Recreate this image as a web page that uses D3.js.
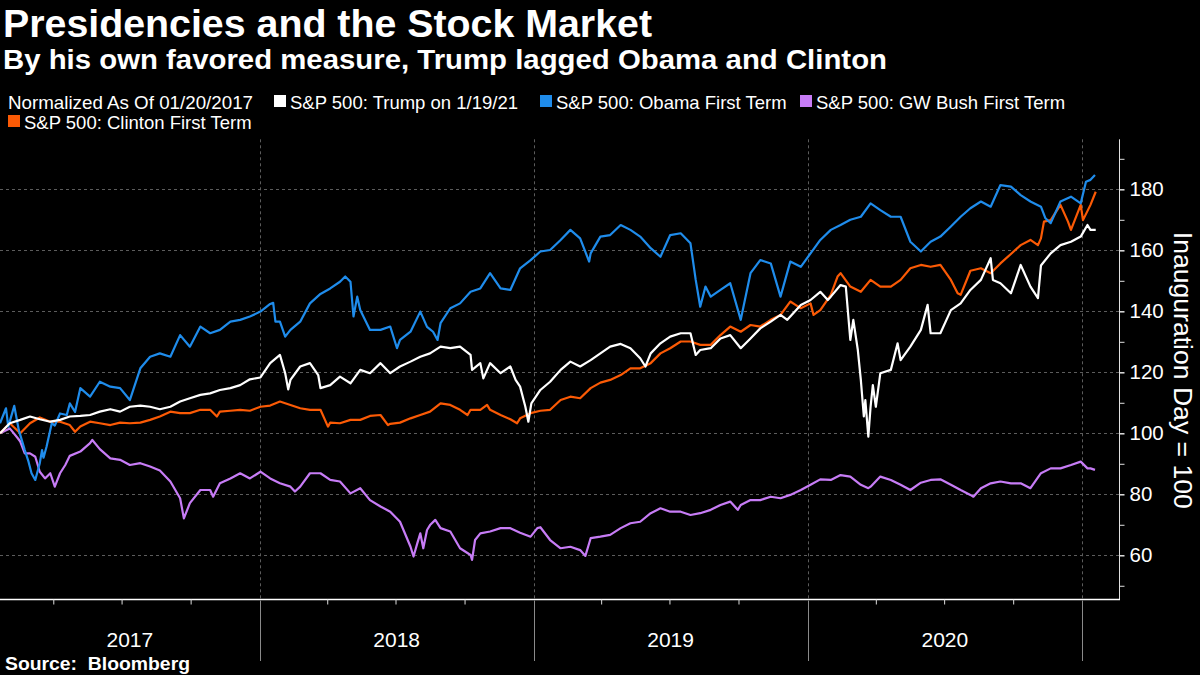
<!DOCTYPE html>
<html><head><meta charset="utf-8">
<script src="https://cdn.jsdelivr.net/npm/d3@7"></script>
<style>
html,body{margin:0;padding:0;background:#000;}
svg{display:block;font-family:"Liberation Sans",Arial,sans-serif;}
</style></head><body>
<svg id="chart" width="1200" height="675"></svg>
<script>
// ---------- DATA ----------
// day offsets from inauguration day (2017-01-20), index value (Inauguration Day = 100)
const startDate = new Date(2017, 0, 20);
const endDate = new Date(2021, 1, 19);

const trumpSeries = [[0,100],[13,103.3],[27,104.4],[40,105.5],[53,104.6],[67,103.8],[80,104.4],[93,105.5],[107,105.7],[120,106.0],[133,107.1],[147,107.9],[160,107.1],[173,108.7],[187,109.1],[200,108.7],[213,107.9],[227,108.7],[240,110.4],[253,111.5],[267,112.6],[280,113.1],[293,114.2],[307,114.8],[320,115.8],[333,117.7],[347,118.3],[360,123.0],[373,125.7],[380,119.7],[384,114.4],[387,117.5],[400,121.9],[413,123.0],[424,119.1],[427,114.8],[440,115.8],[453,118.6],[467,116.4],[480,120.8],[493,119.7],[507,123.0],[520,119.7],[533,121.9],[547,123.5],[560,125.1],[573,126.2],[587,128.4],[600,127.9],[613,128.4],[627,125.7],[629,120.8],[640,123.0],[644,118.0],[653,123.0],[667,119.7],[680,121.9],[687,117.5],[693,115.3],[700,108.7],[704,103.8],[708,109.8],[720,114.2],[733,116.9],[747,120.8],[760,123.5],[773,121.9],[787,124.0],[800,126.2],[813,128.4],[827,129.3],[840,127.9],[853,124.6],[860,121.9],[867,126.2],[880,129.5],[893,131.7],[907,132.8],[920,132.8],[927,125.7],[933,127.3],[947,127.9],[960,131.1],[973,132.2],[987,127.9],[1000,131.1],[1013,134.4],[1027,136.6],[1040,138.8],[1049,137.2],[1053,138.3],[1067,142.1],[1080,143.7],[1093,146.4],[1103,143.7],[1107,144.8],[1120,148.6],[1127,148.1],[1133,130.6],[1137,137.2],[1143,127.3],[1147,117.5],[1151,105.5],[1153,110.9],[1157,98.9],[1160,108.7],[1163,115.8],[1167,108.7],[1173,119.7],[1187,120.8],[1196,129.5],[1200,124.0],[1213,128.4],[1227,133.9],[1236,142.1],[1240,132.8],[1253,132.8],[1267,140.4],[1280,142.6],[1293,147.0],[1307,150.3],[1320,157.4],[1323,150.3],[1333,149.2],[1347,145.9],[1360,155.2],[1373,148.1],[1383,144.3],[1387,155.0],[1400,159.0],[1413,161.7],[1427,162.8],[1440,164.5],[1449,168.3],[1453,166.7],[1460,166.7]];

const obamaSeries = [[0,103.3],[8,108.2],[11,102.2],[19,109.0],[25,101.1],[33,94.5],[38,90.7],[42,86.9],[47,84.7],[53,90.2],[56,94.5],[58,92],[62,95.6],[69,103.3],[73,102.5],[80,106.5],[89,106],[93,109.8],[100,107],[107,114.8],[120,112.0],[133,116.9],[147,115.3],[160,114.8],[173,110.9],[187,121.3],[200,125.1],[213,126.2],[227,125.1],[240,132.2],[253,128.4],[267,135.0],[280,132.8],[293,133.9],[307,136.6],[320,137.2],[333,138.3],[347,139.9],[360,142.4],[364,142.8],[367,136.6],[373,136.6],[380,131.7],[387,133.9],[400,136.6],[413,142.6],[427,145.7],[440,147.5],[453,149.7],[460,151.4],[467,149.7],[471,138.3],[476,144.8],[480,140.4],[493,133.9],[507,133.9],[520,135.0],[529,127.9],[533,130.6],[547,133.3],[560,139.9],[569,134.9],[577,133.3],[583,130.6],[587,136.1],[600,141.0],[613,142.6],[627,146.4],[640,147.5],[653,152.5],[667,147.5],[680,147.0],[693,154.1],[707,156.8],[720,159.6],[733,160.1],[747,163.4],[760,166.7],[773,163.9],[785,156.3],[787,159.0],[800,164.5],[813,165.0],[827,168.3],[840,166.7],[853,164.5],[867,160.7],[880,157.9],[893,165.0],[907,165.6],[920,162.3],[927,150.3],[933,141.5],[940,148.1],[947,144.8],[960,147.0],[973,149.2],[987,137.2],[1000,152.5],[1013,156.8],[1027,155.7],[1040,144.8],[1053,156.3],[1067,154.6],[1080,159.0],[1093,163.4],[1107,166.7],[1120,168.3],[1133,170.0],[1147,171.0],[1160,175.4],[1173,173.2],[1187,171.0],[1200,171.0],[1213,162.8],[1227,159.6],[1240,162.8],[1253,164.5],[1267,167.8],[1280,171.0],[1293,173.8],[1307,176.0],[1320,174.3],[1333,181.4],[1347,180.9],[1360,178.1],[1373,176.0],[1387,174.3],[1393,170.5],[1400,168.9],[1413,176.0],[1427,177.6],[1440,175.4],[1447,182.5],[1453,183.1],[1459,184.7]];

const bushSeries = [[0,100],[13,101.6],[24,98.3],[27,97.3],[33,93.4],[40,93.4],[47,92.3],[53,87.4],[60,85.2],[67,86.9],[73,82.5],[80,86.9],[87,89.6],[93,92.6],[107,94.0],[120,96.8],[123,97.8],[133,94.8],[147,91.8],[160,91.3],[173,89.6],[187,90.2],[200,89.1],[213,87.8],[227,84.2],[240,78.7],[245,72.1],[253,77.1],[267,81.4],[280,81.4],[284,79.2],[293,83.6],[307,85.2],[320,86.9],[333,85.2],[347,87.4],[360,85.2],[373,83.6],[387,82.5],[393,80.9],[400,82.5],[413,86.9],[427,86.9],[440,84.7],[453,84.2],[467,80.3],[480,82.0],[493,78.1],[507,76.0],[520,74.3],[533,71.0],[547,62.8],[551,59.6],[556,63.9],[560,67.2],[564,62.3],[569,68.3],[573,69.9],[580,71.6],[587,68.9],[600,67.8],[613,62.3],[627,60.1],[629,58.5],[633,65.0],[640,67.2],[653,67.8],[667,68.9],[680,68.9],[693,67.4],[707,66.1],[716,68.9],[720,69.2],[733,65.0],[747,62.3],[760,62.8],[773,61.7],[780,59.8],[787,65.6],[800,66.1],[813,66.7],[827,68.9],[840,70.5],[853,71.0],[867,73.8],[880,75.4],[893,74.3],[907,74.3],[920,73.2],[933,73.8],[947,74.9],[960,76.5],[973,77.6],[983,74.9],[987,76.5],[1000,78.1],[1013,78.1],[1027,79.2],[1040,78.7],[1053,79.8],[1067,81.4],[1080,83.1],[1093,84.9],[1107,84.7],[1120,86.3],[1133,85.8],[1147,83.1],[1157,82.0],[1160,82.5],[1173,85.8],[1187,84.7],[1200,83.1],[1213,81.4],[1227,83.8],[1240,84.7],[1253,84.9],[1267,83.1],[1280,81.4],[1293,79.8],[1297,79.2],[1307,82.0],[1320,83.6],[1333,84.2],[1347,83.6],[1360,83.6],[1373,82.0],[1387,86.9],[1400,88.5],[1413,88.5],[1427,89.6],[1440,90.7],[1449,88.5],[1453,88.5],[1459,88.0]];

const clintonSeries = [[0,100],[13,103.3],[27,100.0],[40,103.3],[53,105.2],[67,103.8],[80,103.8],[93,102.7],[100,100.5],[107,102.2],[120,103.8],[133,103.3],[147,102.7],[160,103.5],[173,103.3],[187,103.5],[200,104.4],[213,105.5],[227,107.1],[240,106.6],[253,106.6],[267,107.7],[280,107.7],[289,105.5],[293,107.1],[307,107.4],[320,107.7],[333,107.4],[347,108.7],[360,109.1],[373,110.4],[387,109.3],[400,108.2],[413,107.7],[427,107.7],[437,102.2],[440,103.5],[453,103.3],[467,104.4],[480,104.4],[493,105.7],[507,106.0],[517,102.7],[520,103.1],[533,103.5],[547,104.9],[560,106.0],[573,107.1],[587,109.8],[600,109.3],[613,107.7],[623,106.0],[627,107.7],[640,107.7],[649,109.3],[653,107.7],[667,106.0],[680,104.6],[689,103.3],[693,104.9],[707,106.6],[720,107.4],[733,107.7],[747,110.9],[760,112.0],[773,111.5],[787,114.8],[800,116.6],[813,117.5],[827,119.1],[840,121.3],[853,121.3],[867,123.0],[880,126.2],[893,127.9],[907,130.1],[920,130.1],[933,129.0],[947,129.0],[960,132.2],[973,135.0],[987,133.3],[1000,135.5],[1013,135.0],[1027,137.2],[1040,138.8],[1053,143.2],[1060,142.1],[1067,141.0],[1080,142.6],[1084,138.8],[1093,140.4],[1107,145.4],[1116,151.4],[1120,152.5],[1133,148.1],[1147,146.4],[1160,150.3],[1173,148.1],[1187,148.1],[1200,150.3],[1213,154.1],[1227,155.2],[1240,154.6],[1253,155.2],[1267,150.3],[1276,145.9],[1280,145.4],[1293,153.3],[1307,154.1],[1320,152.5],[1333,155.7],[1347,158.8],[1360,161.7],[1373,163.4],[1383,161.7],[1387,163.9],[1391,169.4],[1400,169.9],[1413,174.9],[1423,169.4],[1427,166.7],[1440,174.9],[1443,169.9],[1453,174.9],[1460,179.2]];

const seriesNames = ["S&P 500: Trump on 1/19/21","S&P 500: Obama First Term","S&P 500: GW Bush First Term","S&P 500: Clinton First Term"];
const legendNote = "Normalized As Of 01/20/2017";
const yTicks = [60,80,100,120,140,160,180];
const yMinorTicks = [50,70,90,110,130,150,170,190];
const yearLabels = [2017,2018,2019,2020];
const titleText = "Presidencies and the Stock Market";
const subtitleText = "By his own favored measure, Trump lagged Obama and Clinton";
const yAxisTitle = "Inauguration Day = 100";
const sourceText = "Source:  Bloomberg";

// ---------- CHART ----------
const svg = d3.select("#chart");
svg.append("rect").attr("width",1200).attr("height",675).attr("fill","#000");

const colors = ["#ffffff","#1f8ceb","#c77cf6","#fb5a05"];
const plotL = 0, plotR = 1119, plotT = 139.3, plotB = 599.5;

const x = d3.scaleTime().domain([startDate, endDate]).range([plotL, plotR]);
const y = d3.scaleLinear().domain([45.5, 196.4]).range([plotB, plotT]);
const dayToDate = d => d3.timeDay.offset(startDate, d);

// title
svg.append("text").attr("x",3).attr("y",37).attr("fill","#fff")
  .attr("font-size",38).attr("font-weight","bold")
  .attr("textLength",649).attr("lengthAdjust","spacingAndGlyphs").text(titleText);
svg.append("text").attr("x",3).attr("y",69).attr("fill","#fff")
  .attr("font-size",27).attr("font-weight","bold")
  .attr("textLength",884).attr("lengthAdjust","spacingAndGlyphs").text(subtitleText);

// legend (layout: swatch x positions per item, row)
const legendLayout = [{sx:274,row:0},{sx:540,row:0},{sx:800,row:0},{sx:8,row:1}];
const lg = svg.append("g").attr("font-size",18.5).attr("fill","#fff");
const rowY = r => 109 + r*20;
lg.append("text").attr("x",8).attr("y",rowY(0)).attr("fill","#fff")
  .attr("textLength",245).attr("lengthAdjust","spacingAndGlyphs").text(legendNote);
seriesNames.forEach((name,i) => {
  const L = legendLayout[i];
  lg.append("rect").attr("x",L.sx).attr("y",rowY(L.row)-14).attr("width",12).attr("height",12).attr("fill",colors[i]);
  lg.append("text").attr("x",L.sx+16).attr("y",rowY(L.row)).attr("fill","#fff").text(name);
});

// gridlines
const grid = svg.append("g").attr("stroke","#5c5c5c").attr("stroke-width",1).attr("stroke-dasharray","3,3");
yTicks.forEach(v => {
  const yy = Math.round(y(v))+0.5;
  grid.append("line").attr("x1",plotL).attr("x2",plotR).attr("y1",yy).attr("y2",yy);
});
const yearStarts = d3.timeYear.range(d3.timeYear.ceil(startDate), endDate);
yearStarts.forEach(d => {
  const xx = Math.round(x(d))+0.5;
  grid.append("line").attr("x1",xx).attr("x2",xx).attr("y1",plotT).attr("y2",plotB);
});

// lines
const line = d3.line().x(d => x(dayToDate(d[0]))).y(d => y(d[1]));
const drawOrder = [2,3,1,0];
const allSeries = [trumpSeries, obamaSeries, bushSeries, clintonSeries];
drawOrder.forEach(i => {
  svg.append("path").datum(allSeries[i]).attr("d",line)
    .attr("fill","none").attr("stroke",colors[i]).attr("stroke-width",2.2)
    .attr("stroke-linejoin","round");
});

// right axis
const yAxis = d3.axisRight(y).tickValues(yTicks).tickSize(5).tickSizeOuter(0).tickPadding(5);
const ya = svg.append("g").attr("transform",`translate(${plotR+0.5},0)`).call(yAxis);
ya.select(".domain").attr("stroke","#e0e0e0").attr("d",`M0,${plotT}V${plotB}`);
ya.selectAll(".tick line").attr("stroke","#e0e0e0").attr("stroke-width",1.5);
ya.selectAll(".tick text").attr("fill","#fff").attr("font-size",20.5)
  .attr("font-family","'Liberation Sans',Arial,sans-serif");
const yMinor = d3.axisRight(y).tickValues(yMinorTicks).tickSize(5).tickSizeOuter(0).tickFormat("");
const ym = svg.append("g").attr("transform",`translate(${plotR+0.5},0)`).call(yMinor);
ym.select(".domain").remove();
ym.selectAll(".tick line").attr("stroke","#e0e0e0");

svg.append("text").attr("transform",`translate(1174,${(y(60)+y(180))/2 - 2}) rotate(90)`)
  .attr("text-anchor","middle").attr("fill","#fff").attr("font-size",26)
  .attr("textLength",277).attr("lengthAdjust","spacingAndGlyphs").text(yAxisTitle);

// bottom axis
const quarterTicks = d3.timeMonth.every(3).range(startDate, endDate).filter(d => d.getMonth() !== 0);
const xAxis = d3.axisBottom(x).tickValues(quarterTicks).tickSize(5).tickSizeOuter(0).tickFormat("");
const xa = svg.append("g").attr("transform",`translate(0,${plotB})`).call(xAxis);
xa.select(".domain").attr("stroke","#fff").attr("stroke-width",1.5).attr("d",`M${plotL},0H${plotR+1}`);
xa.selectAll(".tick line").attr("stroke","#ddd");

const sep = svg.append("g").attr("stroke","#8a8a8a").attr("stroke-width",1);
yearStarts.forEach(d => {
  const xx = Math.round(x(d))+0.5;
  sep.append("line").attr("x1",xx).attr("x2",xx).attr("y1",plotB+1).attr("y2",661);
});
yearLabels.forEach(yr => {
  const a = Math.max(x(new Date(yr,0,1)), plotL);
  const b = Math.min(x(new Date(yr+1,0,1)), plotR);
  svg.append("text").attr("x",(a+b)/2).attr("y",647).attr("text-anchor","middle")
    .attr("fill","#fff").attr("font-size",21).text(String(yr));
});

// source
svg.append("text").attr("x",5).attr("y",670).attr("fill","#fff").attr("font-size",18)
  .attr("font-weight","bold").attr("textLength",185).attr("lengthAdjust","spacingAndGlyphs")
  .style("white-space","pre").text(sourceText);
</script>
</body></html>
